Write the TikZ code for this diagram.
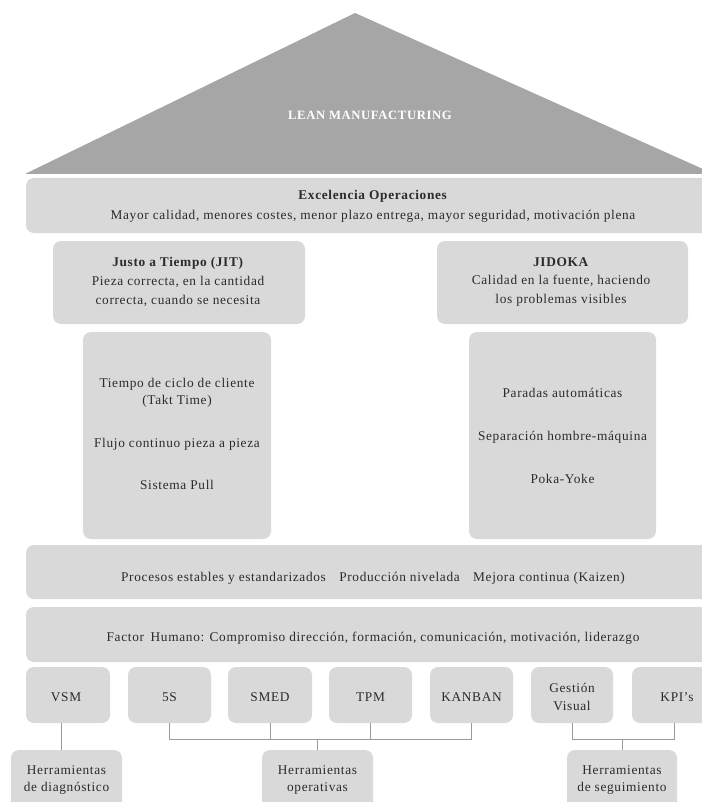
\documentclass[tikz,border=0pt]{standalone}
\usepackage{fontspec}
\setmainfont[LetterSpace=5]{Liberation Serif}
\usetikzlibrary{fit}

\definecolor{roofgray}{HTML}{A6A6A6}
\definecolor{boxgray}{HTML}{D9D9D9}
\definecolor{inkgray}{HTML}{2B2B2B}
\definecolor{wiregray}{HTML}{9A9A9A}

\begin{document}
\begin{tikzpicture}[x=0.75pt,y=-0.75pt,
  blk/.style={fill=boxgray, rounded corners=6pt, inner sep=0pt},
  lbl/.style={inner sep=0pt, align=center, text=inkgray, font=\fontsize{10}{13}\selectfont},
  conn/.style={draw=wiregray, line width=0.6pt},
  ]
\path[use as bounding box] (0,0) rectangle (702,802);
\begin{scope}
\clip (0,0) rectangle (702,802);

% roof
\fill[roofgray] (25,174) -- (355,13) -- (714,174) -- cycle;
\node[text=white, font=\fontsize{9.5}{12}\selectfont\bfseries] (lean) at (370,115) {LEAN MANUFACTURING};

% top band
\node[blk, fit={(26,178) (716,233)}] (exc) {};
\node[lbl, font=\fontsize{10}{15}\selectfont] (exctxt) at (373,206)
  {\textbf{Excelencia Operaciones}\\
   Mayor calidad, menores costes, menor plazo entrega, mayor seguridad, motivación plena};

% pillar heads
\node[blk, fit={(53,241) (305,324)}] (jit) {};
\node[blk, fit={(437,241) (688,324)}] (jidoka) {};
\node[lbl, font=\fontsize{10}{14}\selectfont] (jittxt) at (178,282)
  {\textbf{Justo a Tiempo (JIT)}\\ Pieza correcta, en la cantidad\\ correcta, cuando se necesita};
\node[lbl, font=\fontsize{10}{14}\selectfont] (jidokatxt) at (561,282)
  {\textbf{JIDOKA}\\ Calidad en la fuente, haciendo\\ los problemas visibles};

% pillar shafts
\node[blk, fit={(83,332) (271,539)}] (jitcol) {};
\node[blk, fit={(469,332) (656,539)}] (jidcol) {};
\node[lbl] (jitcoltxt) at (177,434)
  {Tiempo de ciclo de cliente\\ (Takt Time)\\[19pt]
   Flujo continuo pieza a pieza\\[19pt]
   Sistema Pull};
\node[lbl] (jidcoltxt) at (562.5,436)
  {Paradas automáticas\\[19pt]
   Separación hombre-máquina\\[19pt]
   Poka-Yoke};

% foundation bands
\node[blk, fit={(26,545) (716,599)}] (proc) {};
\node[lbl] (proctxt) at (373,578)
  {Procesos estables y estandarizados\quad Producción nivelada\quad Mejora continua (Kaizen)};
\node[blk, fit={(26,607) (716,662)}] (human) {};
\node[lbl] (humantxt) at (373,638)
  {Factor\enspace Humano: Compromiso dirección, formación, comunicación, motivación, liderazgo};

% tools
\node[blk, fit={(26,667) (110,723)}]  (vsm)    {};
\node[blk, fit={(128,667) (211,723)}] (s5)     {};
\node[blk, fit={(228,667) (312,723)}] (smed)   {};
\node[blk, fit={(329,667) (412,723)}] (tpm)    {};
\node[blk, fit={(430,667) (513,723)}] (kanban) {};
\node[blk, fit={(531,667) (613,723)}] (gvis)   {};
\node[blk, fit={(632,667) (716,723)}] (kpis)   {};
\node[lbl] (vsmtxt)    at (66,697)  {VSM};
\node[lbl] (s5txt)     at (169.5,697) {5S};
\node[lbl] (smedtxt)   at (270,697) {SMED};
\node[lbl] (tpmtxt)    at (370.5,697) {TPM};
\node[lbl] (kanbantxt) at (471.5,697) {KANBAN};
\node[lbl] (gvistxt)   at (572,697) {Gestión\\ Visual};
\node[lbl] (kpistxt)   at (677,697) {KPI's};

% tool groups
\node[blk, fit={(11,750) (122,812)}]  (diag) {};
\node[blk, fit={(262,750) (373,812)}] (oper) {};
\node[blk, fit={(567,750) (677,812)}] (segu) {};
\node[lbl] (diagtxt) at (66.5,780) {Herramientas\\ de diagnóstico};
\node[lbl] (opertxt) at (317.5,780) {Herramientas\\ operativas};
\node[lbl] (segutxt) at (622,780) {Herramientas\\ de seguimiento};

% connectors
\coordinate (opbus) at (0,739);
\coordinate (vsmdrop) at (61,0);
\draw[conn] (vsmdrop |- diag.north) -- (vsmdrop |- vsm.south);
\draw[conn] (s5.south) -- (s5.south |- opbus) -- (kanban.south |- opbus) -- (kanban.south);
\draw[conn] (smed.south) -- (smed.south |- opbus);
\draw[conn] (tpm.south) -- (tpm.south |- opbus);
\draw[conn] (oper.north) -- (oper.north |- opbus);
\draw[conn] (gvis.south) -- (gvis.south |- opbus) -- (kpis.south |- opbus) -- (kpis.south);
\draw[conn] (segu.north) -- (segu.north |- opbus);
\end{scope}
\end{tikzpicture}
\end{document}
